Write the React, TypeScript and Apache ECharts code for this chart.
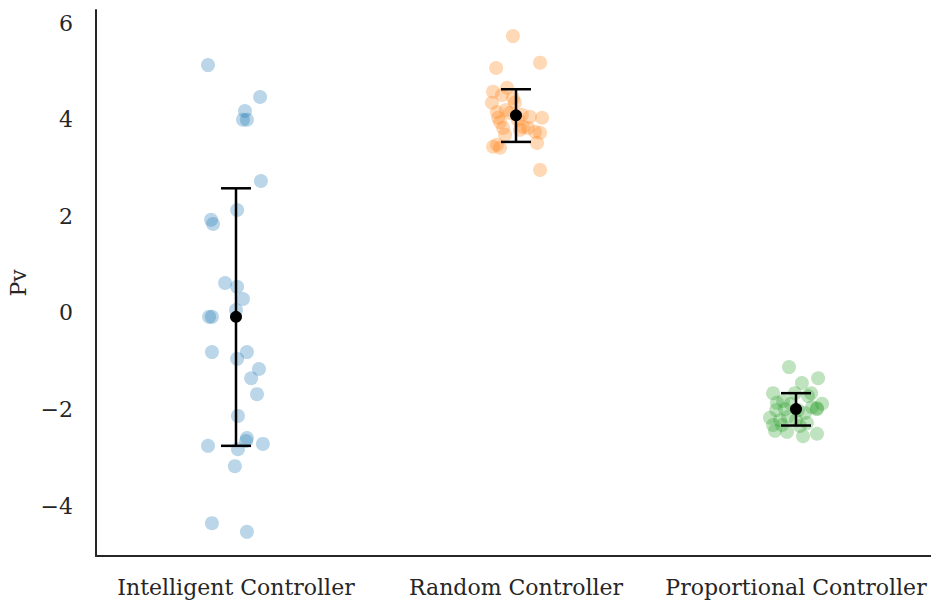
import React, { useEffect, useRef } from "react";
import * as echarts from "echarts";

const categories = ["Intelligent Controller", "Random Controller", "Proportional Controller"];
const yTicks = [-4, -2, 0, 2, 4, 6];

const intelligentValues = [5.13, 4.47, 4.18, 4.0, 4.0, 2.73, 2.13, 1.93, 1.84, 0.62, 0.54, 0.29, 0.06, -0.08, -0.08,
  -0.81, -0.81, -0.95, -1.16, -1.35, -1.68, -2.13, -2.59, -2.65, -2.75, -2.71, -2.82, -3.17, -4.35, -4.53];
const intelligentJitter = [-0.1, 0.086, 0.032, 0.025, 0.039, 0.089, 0.004, -0.089, -0.082, -0.039, 0.004, 0.025, 0.0, -0.096, -0.086,
  -0.086, 0.039, 0.004, 0.082, 0.054, 0.075, 0.007, 0.039, 0.036, -0.1, 0.096, 0.007, -0.004, -0.086, 0.039];

const randomValues = [5.73, 5.07, 5.18, 4.66, 4.58, 4.51, 4.35, 4.35, 4.16, 4.2, 4.14, 4.1, 4.06, 4.04, 3.95,
  3.83, 3.85, 3.83, 3.75, 3.69, 3.73, 3.52, 3.48, 3.42, 3.44, 2.96, 4.0, 4.45, 3.79, 4.04];
const randomJitter = [-0.011, -0.071, 0.086, -0.032, -0.082, -0.05, -0.086, -0.004, -0.068, -0.036, -0.021, 0.021, 0.05, 0.093, -0.057,
  -0.046, 0.025, 0.043, 0.068, -0.039, 0.086, 0.075, -0.068, -0.057, -0.082, 0.086, 0.007, -0.011, 0.014, -0.064];

const proportionalValues = [-1.12, -1.45, -1.35, -1.66, -1.72, -1.82, -1.86, -1.88, -1.88, -1.99, -1.95, -2.07, -2.17, -2.22, -2.15,
  -2.22, -2.32, -2.28, -2.46, -2.55, -2.5, -2.44, -2.01, -1.99, -1.66, -2.01, -2.34, -1.97, -2.32, -1.66];
const proportionalJitter = [-0.025, 0.021, 0.079, -0.082, 0.043, -0.046, -0.068, -0.018, 0.093, 0.075, 0.057, 0.032, -0.093, -0.057, -0.029,
  0.0, -0.082, 0.039, -0.032, 0.025, 0.075, -0.075, 0.007, -0.039, 0.054, -0.071, 0.014, 0.075, -0.05, -0.004];

const meanValues = [-0.08, 4.09, -1.99];
const ciLow = [-2.75, 3.54, -2.33];
const ciHigh = [2.58, 4.63, -1.66];

const colors = ["#1f77b4", "#ff7f0e", "#2ca02c"];
const FONT = "DejaVu Serif";

export default function App() {
  const ref = useRef<HTMLDivElement>(null);
  useEffect(() => {
    document.body.style.margin = "0";
    const chart = echarts.init(ref.current!, null, { renderer: "svg" });
    const groups = [
      [intelligentValues, intelligentJitter],
      [randomValues, randomJitter],
      [proportionalValues, proportionalJitter],
    ];
    const pointSeries = groups.map((g, i) => ({
      type: "scatter",
      name: categories[i],
      symbolSize: 14,
      itemStyle: { color: colors[i], opacity: 0.3 },
      data: (g[0] as number[]).map((v, k) => [i + (g[1] as number[])[k], v]),
      z: 2,
    }));
    const option = {
      animation: false,
      backgroundColor: "#ffffff",
      grid: { left: 96, top: 10, right: -5, bottom: 49, outerBoundsMode: "none", containLabel: false },
      xAxis: {
        type: "value",
        min: -0.5,
        max: 2.5,
        axisLine: { show: true, onZero: false, lineStyle: { color: "#262626", width: 2 } },
        axisTick: { show: false },
        splitLine: { show: false },
        axisLabel: {
          customValues: [0, 1, 2],
          formatter: (v: number) => categories[Math.round(v)] ?? "",
          fontFamily: FONT,
          fontSize: 22,
          color: "#262626",
          margin: 20,
        },
      },
      yAxis: {
        type: "value",
        min: -5.03,
        max: 6.27,
        name: "Pv",
        nameLocation: "middle",
        nameGap: 66,
        nameTextStyle: { fontFamily: FONT, fontSize: 22, color: "#262626" },
        axisLine: { show: true, onZero: false, lineStyle: { color: "#262626", width: 2 } },
        axisTick: { show: false },
        splitLine: { show: false },
        axisLabel: {
          customValues: yTicks,
          formatter: (v: number) => (v < 0 ? "\u2212" + Math.abs(v) : String(v)),
          fontFamily: FONT,
          fontSize: 22,
          color: "#262626",
          margin: 23,
        },
      },
      series: [
        ...pointSeries,
        {
          type: "custom",
          z: 5,
          data: meanValues.map((m, i) => [i, ciLow[i], ciHigh[i]]),
          renderItem: (params: any, api: any) => {
            const x = api.value(0);
            const lo = api.coord([x, api.value(1)]);
            const hi = api.coord([x, api.value(2)]);
            const half = 15;
            const style = { stroke: "#000000", lineWidth: 2.5 };
            return {
              type: "group",
              children: [
                { type: "line", shape: { x1: lo[0], y1: lo[1], x2: hi[0], y2: hi[1] }, style },
                { type: "line", shape: { x1: lo[0] - half, y1: lo[1], x2: lo[0] + half, y2: lo[1] }, style },
                { type: "line", shape: { x1: hi[0] - half, y1: hi[1], x2: hi[0] + half, y2: hi[1] }, style },
              ],
            };
          },
        },
        {
          type: "scatter",
          z: 6,
          symbolSize: 12,
          itemStyle: { color: "#000000", opacity: 1 },
          data: meanValues.map((m, i) => [i, m]),
        },
      ],
    };
    chart.setOption(option as any);
    return () => chart.dispose();
  }, []);
  return <div ref={ref} style={{ width: 931, height: 605 }} />;
}
